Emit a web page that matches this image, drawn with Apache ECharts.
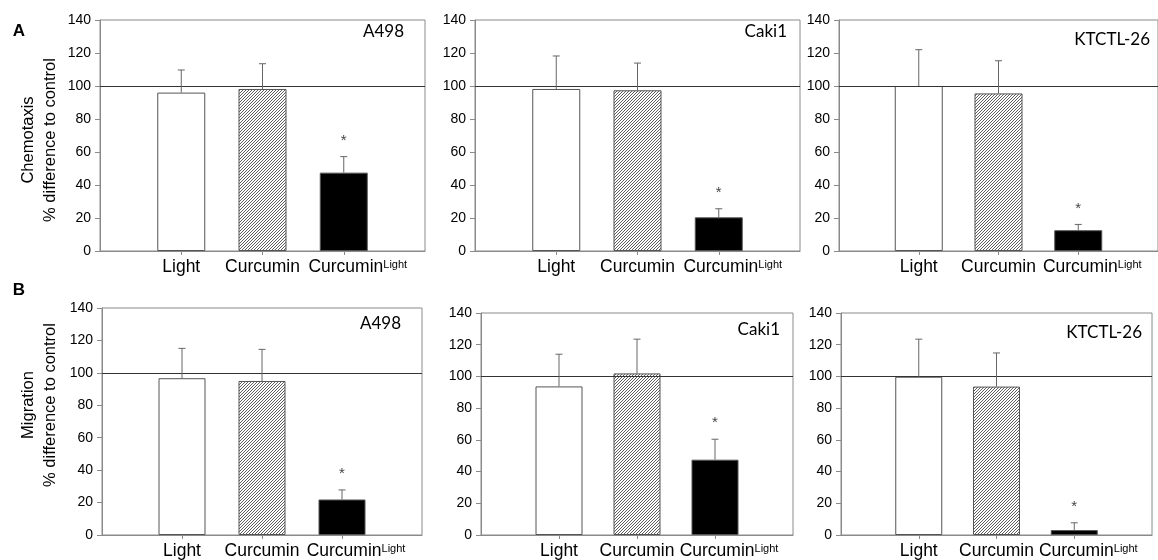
<!DOCTYPE html>
<html>
<head>
<meta charset="utf-8">
<script src="https://cdn.jsdelivr.net/npm/echarts@6/dist/echarts.min.js"></script>
<style>
html,body{margin:0;padding:0;background:#fff;}
#chart{width:1158px;height:560px;}
</style>
</head>
<body>
<div id="chart"></div>
<script>
// ---------------- DATA ----------------
const categories = ['', 'Light', 'Curcumin', 'CurcuminLight', ''];
const cellLines = ['A498', 'Caki1', 'KTCTL-26'];
const rowTitles = ['Chemotaxis', 'Migration'];
const yAxisSubtitle = '% difference to control';
const panelLetters = ['A', 'B'];
const yMin = 0, yMax = 140, yInterval = 20;
const referenceValue = 100;

// means per cell line: [Light, Curcumin, CurcuminLight]
const chemotaxisMeans = [[96, 98.2, 47.5], [98.2, 97.4, 20.4], [100, 95.5, 12.6]];
const chemotaxisErrors = [[13.7, 15.3, 9.7], [20, 16.5, 5.2], [22, 19.8, 3.5]];
const migrationMeans = [[96.7, 95, 21.9], [93.7, 101.9, 47.5], [99.8, 93.6, 3.1]];
const migrationErrors = [[18.4, 19.5, 5.9], [20.3, 21.6, 12.9], [23.7, 21.2, 4.6]];
const significant = [false, false, true];

// ---------------- LAYOUT ----------------
const grids = [
  {left: 100, top: 20, width: 325, height: 231},
  {left: 475, top: 20, width: 325, height: 231},
  {left: 839, top: 20, width: 324, height: 231},
  {left: 102, top: 308, width: 320, height: 228},
  {left: 481, top: 313, width: 312, height: 224},
  {left: 841, top: 313, width: 311, height: 224}
];
const cellLabelPos = [[404, 32], [787, 32], [1150, 40], [401, 324], [780, 330], [1142, 333]];
const barWidths = [48, 48, 48, 47, 47, 47];

// hatch pattern
function makeHatch() {
  const c = document.createElement('canvas');
  c.width = 3; c.height = 3;
  const g = c.getContext('2d');
  g.fillStyle = '#ffffff';
  g.fillRect(0, 0, 3, 3);
  g.fillStyle = '#5e5e5e';
  for (let k = 0; k < 3; k++) g.fillRect(k, 2 - k, 1, 1);
  return {image: c, repeat: 'repeat'};
}
const hatch = makeHatch();
const barFills = ['#ffffff', hatch, '#000000'];

const font = '"Liberation Sans", Arial, sans-serif';
const frameColor = '#8a8a8a';

const option = {
  animation: false,
  backgroundColor: '#ffffff',
  grid: [], xAxis: [], yAxis: [], series: [], graphic: []
};

for (let i = 0; i < 6; i++) {
  const row = Math.floor(i / 3), col = i % 3;
  const means = row === 0 ? chemotaxisMeans[col] : migrationMeans[col];
  const errs = row === 0 ? chemotaxisErrors[col] : migrationErrors[col];
  option.grid.push(Object.assign({show: true, borderColor: frameColor, borderWidth: 1, containLabel: false}, grids[i]));
  option.xAxis.push({
    type: 'category', gridIndex: i, data: categories, boundaryGap: false,
    axisLine: {lineStyle: {color: frameColor, width: 1}},
    axisTick: {show: true, length: 4, lineStyle: {color: frameColor},
      interval: function (idx) { return idx >= 1 && idx <= 3; }},
    axisLabel: {
      interval: function (idx) { return idx >= 1 && idx <= 3; },
      hideOverlap: false, showMinLabel: true, showMaxLabel: true,
      margin: 7, color: '#000', fontFamily: font, fontSize: 17.5,
      formatter: function (v) {
        if (v === 'CurcuminLight') return '{c|Curcumin}{b|Light}';
        return '{a|' + v + '}';
      },
      rich: {
        a: {fontSize: 17.5, fontFamily: font, color: '#000'},
        c: {fontSize: 17.5, fontFamily: font, color: '#000', padding: [0, 0, 0, 28]},
        b: {fontSize: 11, fontFamily: font, color: '#000', verticalAlign: 'top', padding: [1, 0, 0, 0]}
      }
    },
    splitLine: {show: false}
  });
  option.yAxis.push({
    type: 'value', gridIndex: i, min: yMin, max: yMax, interval: yInterval,
    axisLine: {show: true, lineStyle: {color: frameColor, width: 1}},
    axisTick: {show: true, length: 5, lineStyle: {color: frameColor}},
    axisLabel: {color: '#000', fontFamily: font, fontSize: 14, margin: 9},
    splitLine: {show: false}
  });
  option.series.push({
    type: 'bar', xAxisIndex: i, yAxisIndex: i, barWidth: barWidths[i],
    data: categories.map(function (c, k) {
      if (k < 1 || k > 3) return '-';
      return {value: means[k - 1], itemStyle: {color: barFills[k - 1], borderColor: '#555', borderWidth: 1}};
    }),
    markLine: {
      silent: true, symbol: 'none', label: {show: false},
      lineStyle: {color: '#333', width: 1, type: 'solid'},
      data: [{yAxis: referenceValue}]
    }
  });
  const errData = means.map(function (m, k) { return [k + 1, m, errs[k], significant[k] ? 1 : 0]; });
  option.series.push({
    type: 'custom', xAxisIndex: i, yAxisIndex: i, z: 5,
    data: errData,
    renderItem: function (params, api) {
      const x = api.value(0), m = api.value(1), e = api.value(2), s = api.value(3);
      const p0 = api.coord([x, m]);
      const p1 = api.coord([x, m + e]);
      const ls = {stroke: '#666', lineWidth: 1};
      const children = [
        {type: 'line', shape: {x1: p0[0], y1: p0[1], x2: p1[0], y2: p1[1]}, style: ls},
        {type: 'line', shape: {x1: p1[0] - 3.5, y1: p1[1], x2: p1[0] + 3.5, y2: p1[1]}, style: ls}
      ];
      if (s) {
        children.push({type: 'text', style: {text: '*', x: p1[0], y: p1[1] - 16,
          textAlign: 'center', textVerticalAlign: 'middle', fill: '#444', font: '15px ' + font}});
      }
      return {type: 'group', children: children};
    }
  });
  option.graphic.push({
    type: 'text', x: cellLabelPos[i][0], y: cellLabelPos[i][1],
    style: {text: cellLines[col], textAlign: 'right', textVerticalAlign: 'middle',
      fill: '#000', font: '17px Lato, "Open Sans", sans-serif'}
  });
}

// row titles and panel letters
const rowCenters = [140, 405];
const letterY = [31, 290];
for (let r = 0; r < 2; r++) {
  option.graphic.push({
    type: 'text', x: 28, y: rowCenters[r], rotation: Math.PI / 2,
    style: {text: rowTitles[r], textAlign: 'center', textVerticalAlign: 'middle',
      fill: '#000', font: '16.5px ' + font}
  });
  option.graphic.push({
    type: 'text', x: 50, y: rowCenters[r], rotation: Math.PI / 2,
    style: {text: yAxisSubtitle, textAlign: 'center', textVerticalAlign: 'middle',
      fill: '#000', font: '16.5px ' + font}
  });
  option.graphic.push({
    type: 'text', x: 19, y: letterY[r],
    style: {text: panelLetters[r], textAlign: 'center', textVerticalAlign: 'middle',
      fill: '#000', font: 'bold 17px ' + font}
  });
}

const chart = echarts.init(document.getElementById('chart'), null, {renderer: 'canvas'});
chart.setOption(option);
</script>
</body>
</html>
